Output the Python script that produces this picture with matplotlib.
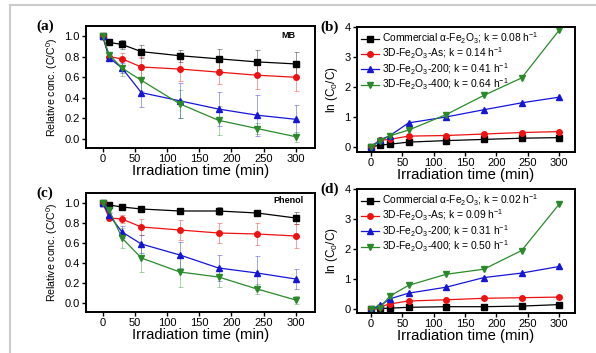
import matplotlib
matplotlib.use('Agg')
import matplotlib.pyplot as plt
from matplotlib.lines import Line2D
from matplotlib.colors import to_rgba

plt.rcParams['font.family'] = ['Liberation Sans', 'DejaVu Sans']
plt.rcParams['mathtext.fontset'] = 'custom'
plt.rcParams['mathtext.rm'] = 'Liberation Sans'
plt.rcParams['mathtext.it'] = 'Liberation Sans'

# --- data ---
t_conc = [0, 10, 30, 60, 120, 180, 240, 300]
t_ln = [0, 15, 30, 60, 120, 180, 240, 300]

mb_comm = [1.0, 0.94, 0.92, 0.85, 0.81, 0.78, 0.75, 0.73]
mb_as = [1.0, 0.80, 0.78, 0.70, 0.68, 0.65, 0.62, 0.60]
mb_200 = [1.0, 0.79, 0.69, 0.45, 0.37, 0.29, 0.23, 0.19]
mb_400 = [1.0, 0.82, 0.69, 0.57, 0.34, 0.18, 0.10, 0.02]
mb_comm_err = [0, 0.01, 0.04, 0.06, 0.06, 0.10, 0.12, 0.12]
mb_as_err = [0, 0.02, 0.06, 0.10, 0.12, 0.12, 0.13, 0.13]
mb_200_err = [0, 0.02, 0.05, 0.14, 0.17, 0.17, 0.20, 0.14]
mb_400_err = [0, 0.02, 0.08, 0.10, 0.14, 0.14, 0.05, 0.05]

ph_comm = [1.0, 0.98, 0.96, 0.94, 0.92, 0.92, 0.90, 0.85]
ph_as = [1.0, 0.85, 0.84, 0.76, 0.73, 0.70, 0.69, 0.67]
ph_200 = [1.0, 0.88, 0.71, 0.59, 0.48, 0.35, 0.30, 0.24]
ph_400 = [1.0, 0.93, 0.65, 0.45, 0.31, 0.26, 0.14, 0.03]
ph_comm_err = [0, 0.01, 0.01, 0.02, 0.03, 0.04, 0.03, 0.06]
ph_as_err = [0, 0.02, 0.04, 0.08, 0.10, 0.10, 0.11, 0.12]
ph_200_err = [0, 0.02, 0.06, 0.09, 0.13, 0.13, 0.17, 0.10]
ph_400_err = [0, 0.02, 0.10, 0.14, 0.15, 0.10, 0.05, 0.04]

lnb_comm = [0, 0.06, 0.09, 0.16, 0.21, 0.25, 0.29, 0.31]
lnb_as = [0, 0.22, 0.25, 0.36, 0.38, 0.43, 0.48, 0.51]
lnb_200 = [0, 0.24, 0.37, 0.80, 1.00, 1.24, 1.47, 1.66]
lnb_400 = [0, 0.20, 0.37, 0.56, 1.08, 1.72, 2.30, 3.90]

lnd_comm = [0, 0.02, 0.03, 0.06, 0.08, 0.08, 0.10, 0.15]
lnd_as = [0, 0.08, 0.17, 0.27, 0.31, 0.36, 0.38, 0.40]
lnd_200 = [0, 0.12, 0.34, 0.53, 0.73, 1.05, 1.20, 1.42]
lnd_400 = [0, 0.05, 0.43, 0.79, 1.16, 1.33, 1.95, 3.50]

k_b = ['0.08', '0.14', '0.41', '0.64']
k_d = ['0.02', '0.09', '0.31', '0.50']
names = [r'Commercial $\alpha$-Fe$_2$O$_3$', r'3D-Fe$_2$O$_3$-As',
         r'3D-Fe$_2$O$_3$-200', r'3D-Fe$_2$O$_3$-400']

colors = ['#000000', '#ee1111', '#1515d8', '#2a8a2a']
markers = ['s', 'o', '^', 'v']

W, H = 596, 353
fig = plt.figure(figsize=(W / 100, H / 100), dpi=100)


def px_axes(l, r, t, b):
    return fig.add_axes([l / W, (H - b) / H, (r - l) / W, (b - t) / H])


def style(ax):
    for s in ax.spines.values():
        s.set_linewidth(1.4)
    ax.tick_params(direction='out', length=3, width=1, labelsize=8, pad=1.5)
    ax.set_xlabel('Irradiation time (min)', fontsize=10.7, labelpad=0)
    ax.set_xticks([0, 50, 100, 150, 200, 250, 300])


def panel_letter(ax, letter, x):
    ax.text(x, 1.0, letter, transform=ax.transAxes, ha='left', va='center',
            fontsize=11, fontweight='bold', family='Liberation Serif')


def conc_panel(ax, series, errs, tag, tag_xy, letter):
    for y, e, c, m in zip(series, errs, colors, markers):
        ax.errorbar(t_conc, y, yerr=e, color=c, marker=m, markersize=4,
                    lw=0.9, elinewidth=0.5, capsize=1.8, capthick=0.5,
                    ecolor=to_rgba(c, 0.55))
    ax.set_xlim(-26, 330)
    ax.set_ylim(-0.09, 1.1)
    ax.set_yticks([0.0, 0.2, 0.4, 0.6, 0.8, 1.0])
    ax.set_yticklabels(['0.0', '0.2', '0.4', '0.6', '0.8', '1.0'])
    ax.set_ylabel(r'Relative conc. (C/C$^0$)', fontsize=7.6, labelpad=3)
    ax.text(tag_xy[0], tag_xy[1], tag, transform=ax.transAxes, ha='right',
            va='center', fontsize=6.5, fontweight='bold')
    panel_letter(ax, letter, -0.215)
    style(ax)


def ln_panel(ax, series, ks, letter, ybot):
    for y, c, m, n, k in zip(series, colors, markers, names, ks):
        ax.plot(t_ln, y, color=c, marker=m, markersize=4, lw=0.9,
                label=n + '; k = ' + k + r' h$^{-1}$')
    ax.set_xlim(-22, 325)
    ax.set_ylim(ybot, 4)
    ax.set_yticks([0, 1, 2, 3, 4])
    ax.set_ylabel(r'ln (C$_0$/C)', fontsize=8.5, labelpad=3)
    ax.legend(loc='upper left', frameon=False, fontsize=7.4, handlelength=1.8,
              handletextpad=0.3, labelspacing=0.0, borderaxespad=0.1,
              borderpad=0.25)
    panel_letter(ax, letter, -0.17)
    style(ax)


ax_a = px_axes(86, 315, 26, 148)
ax_b = px_axes(357, 575, 27, 152)
ax_c = px_axes(86, 315, 193, 312)
ax_d = px_axes(357, 575, 189, 313)

conc_panel(ax_a, [mb_comm, mb_as, mb_200, mb_400],
           [mb_comm_err, mb_as_err, mb_200_err, mb_400_err], 'MB',
           (0.913, 0.926), '(a)')
conc_panel(ax_c, [ph_comm, ph_as, ph_200, ph_400],
           [ph_comm_err, ph_as_err, ph_200_err, ph_400_err], 'Phenol',
           (0.948, 0.94), '(c)')
ln_panel(ax_b, [lnb_comm, lnb_as, lnb_200, lnb_400], k_b, '(b)', -0.17)
ln_panel(ax_d, [lnd_comm, lnd_as, lnd_200, lnd_400], k_d, '(d)', -0.13)

# light gray page frame
fig.add_artist(Line2D([10 / W, 1], [1 - 5 / H, 1 - 5 / H], color='#cccccc', lw=1.5))
fig.add_artist(Line2D([10 / W, 10 / W], [0, 1 - 5 / H], color='#cccccc', lw=1.5))

fig.savefig('out.png', dpi=100)
